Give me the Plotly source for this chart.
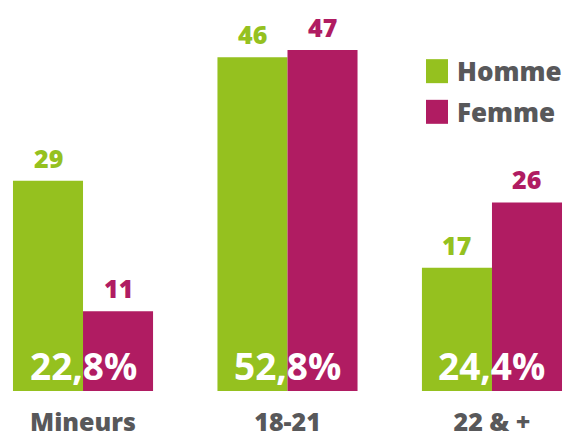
import plotly.graph_objects as go

categories = ["Mineurs", "18-21", "22 & +"]
homme = [29, 46, 17]
femme = [11, 47, 26]
shares = ["22,8%", "52,8%", "24,4%"]

GREEN = "#95c11f"
MAGENTA = "#b01c62"
GRAY = "#58585a"
FONT = "'Open Sans', Lato, sans-serif"

fig = go.Figure()

fig.add_trace(go.Bar(
    x=categories, y=homme, name="Homme",
    marker=dict(color=GREEN, line=dict(width=0)),
    showlegend=False,
))
fig.add_trace(go.Bar(
    x=categories, y=femme, name="Femme",
    marker=dict(color=MAGENTA, line=dict(width=0)),
    showlegend=False,
))

# value labels above each bar (left bar of the pair is Homme, right is Femme)
for values, color, shift in [(homme, GREEN, -35), (femme, MAGENTA, 35)]:
    for cat, v in zip(categories, values):
        fig.add_annotation(
            x=cat, y=v, text=str(v), showarrow=False,
            xshift=shift, yshift=4, yanchor="bottom",
            font=dict(family=FONT, size=25, color=color, weight=800),
        )

# share of each age group, written across the bottom of the pair
for cat, share in zip(categories, shares):
    fig.add_annotation(
        x=cat, y=3.5, text=share, showarrow=False, yanchor="middle",
        font=dict(family=FONT, size=37, color="white", weight="bold"),
    )

# legend drawn by hand so the swatches can be large
legend_items = [("Homme", GREEN, 0.818), ("Femme", MAGENTA, 0.714)]
for label, color, yc in legend_items:
    fig.add_shape(
        type="rect", xref="paper", yref="paper",
        x0=426 / 566, x1=448 / 566, y0=yc - 12 / 391, y1=yc + 12 / 391,
        fillcolor=color, line=dict(width=0),
    )
    fig.add_annotation(
        xref="paper", yref="paper", x=455 / 566, y=yc,
        xanchor="left", yanchor="middle", text=label, showarrow=False,
        font=dict(family=FONT, size=26, color=GRAY, weight=800),
    )

fig.update_layout(
    width=566, height=437,
    margin=dict(l=0, r=0, t=0, b=46),
    paper_bgcolor="white", plot_bgcolor="white",
    barmode="group", bargap=0.315, bargroupgap=0,
    xaxis=dict(
        range=[-0.406, 2.362], showgrid=False, showline=False, zeroline=False,
        ticks="", ticklabelstandoff=14, automargin=False,
        tickfont=dict(family=FONT, size=25, color=GRAY, weight=800),
    ),
    yaxis=dict(range=[0, 53.9], visible=False),
)

# the page body has a default 8px margin; drop it so the chart fills the window
fig.write_html("out.html", config={"displayModeBar": False},
               post_script="document.body.style.margin='0';")
